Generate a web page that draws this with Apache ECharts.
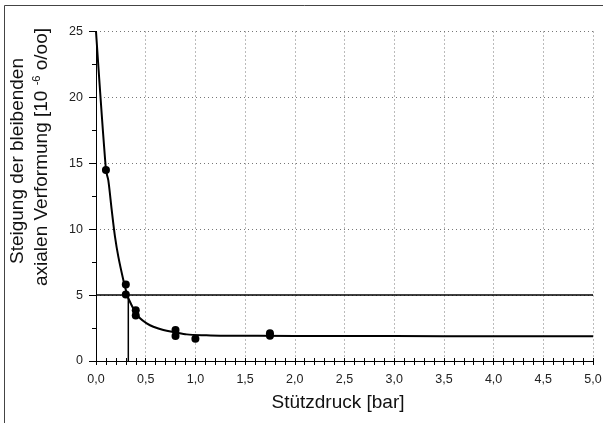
<!DOCTYPE html>
<html>
<head>
<meta charset="utf-8">
<script src="https://cdn.jsdelivr.net/npm/echarts@6/dist/echarts.min.js"></script>
<style>
  html, body { margin: 0; padding: 0; background: #fff; }
  #chart { width: 603px; height: 423px; }
</style>
</head>
<body>
<div id="chart"></div>
<script>
// Measured points: support pressure [bar] vs. slope of permanent axial strain
const pointX = [0.1, 0.3, 0.3, 0.4, 0.4, 0.8, 0.8, 1.0, 1.75, 1.75];
const pointY = [14.5, 5.8, 5.05, 3.85, 3.45, 2.35, 1.9, 1.68, 2.1, 1.92];

// Fitted decay curve, sampled along its course
const curveX = [0.0, 0.1, 0.124, 0.158, 0.191, 0.225, 0.275, 0.309, 0.325, 0.393, 0.443, 0.51, 0.577, 0.678, 0.796, 0.913, 1.11, 1.25, 2.0, 3.0, 4.0, 5.0];
const curveY = [25.0, 14.5, 13.7, 11.46, 9.43, 7.9, 6.15, 5.14, 4.76, 3.74, 3.24, 2.86, 2.6, 2.35, 2.18, 2.02, 1.95, 1.92, 1.9, 1.89, 1.88, 1.88];

// Reference level and the pressure where the curve crosses it
const limitY = 5;
const limitX = 0.325;

// Axis ranges and tick labels
const xMin = 0, xMax = 5, xStep = 0.5;
const yMin = 0, yMax = 25, yStep = 5;
const xTickLabels = ['0,0', '0,5', '1,0', '1,5', '2,0', '2,5', '3,0', '3,5', '4,0', '4,5', '5,0'];
const yTickLabels = ['0', '5', '10', '15', '20', '25'];

// Axis titles
const xTitle = 'Stützdruck [bar]';
const yTitleLine1 = 'Steigung der bleibenden';
const yTitleLine2 = ['axialen Verformung [10 ', '-6', ' o/oo]'];

const FONT = 'Liberation Sans, Arial, sans-serif';
const TITLE_SIZE = 19;
const lineBlack = { color: '#000', width: 1 };
const dotted = { show: true, lineStyle: { color: '#777', width: 1, type: [1, 3] } };

const chart = echarts.init(document.getElementById('chart'), null, { renderer: 'canvas' });

const toPairs = (xs, ys) => xs.map((x, i) => [x, ys[i]]);

chart.setOption({
  animation: false,
  backgroundColor: '#fff',
  grid: { left: 96, right: 10, top: 31.5, bottom: 62, containLabel: false, outerBoundsMode: 'none' },
  graphic: [
    {
      type: 'rect',
      shape: { x: 4.5, y: 5.5, width: 700, height: 500 },
      style: { fill: null, stroke: '#444', lineWidth: 1 },
      silent: true
    },
    {
      type: 'text', x: 338, y: 403, silent: true,
      style: {
        text: xTitle, fill: '#111', font: `${TITLE_SIZE}px ${FONT}`,
        align: 'center', verticalAlign: 'middle'
      }
    },
    {
      type: 'text', x: 18, y: 161, rotation: Math.PI / 2, silent: true,
      style: {
        text: yTitleLine1, fill: '#111', font: `${TITLE_SIZE}px ${FONT}`,
        align: 'center', verticalAlign: 'middle'
      }
    },
    {
      type: 'text', x: 42, y: 157, rotation: Math.PI / 2, silent: true,
      style: {
        text: `{a|${yTitleLine2[0]}}{s|${yTitleLine2[1]}}{a|${yTitleLine2[2]}}`,
        fill: '#111', font: `${TITLE_SIZE}px ${FONT}`,
        align: 'center', verticalAlign: 'middle',
        rich: {
          a: { font: `${TITLE_SIZE}px ${FONT}`, fill: '#111', lineHeight: 24 },
          s: { font: `11px ${FONT}`, fill: '#111', lineHeight: 24, verticalAlign: 'top', padding: [1, 0, 0, 0] }
        }
      }
    }
  ],
  xAxis: [
    {
      type: 'value', position: 'bottom', min: xMin, max: xMax, interval: xStep,
      axisLine: { show: true, lineStyle: lineBlack },
      axisTick: { show: true, inside: false, length: 4, lineStyle: lineBlack },
      axisLabel: {
        show: true, margin: 12, color: '#222', fontFamily: FONT, fontSize: 12.5,
        formatter: v => xTickLabels[Math.round((v - xMin) / xStep)]
      },
      splitLine: dotted
    },
    {
      type: 'value', position: 'top', min: xMin, max: xMax, interval: 0.1,
      axisLine: { show: true, lineStyle: lineBlack },
      axisTick: { show: true, inside: true, length: 4, lineStyle: lineBlack },
      axisLabel: { show: false }, splitLine: { show: false }
    },
    {
      type: 'value', position: 'bottom', min: xMin, max: xMax, interval: 0.1,
      axisLine: { show: false },
      axisTick: { show: true, inside: true, length: 3, lineStyle: lineBlack },
      axisLabel: { show: false }, splitLine: { show: false }
    }
  ],
  yAxis: [
    {
      type: 'value', position: 'left', min: yMin, max: yMax, interval: yStep,
      axisLine: { show: true, lineStyle: lineBlack },
      axisTick: { show: true, inside: false, length: 7, lineStyle: lineBlack },
      minorTick: { show: true, splitNumber: 2, length: 4, lineStyle: lineBlack },
      axisLabel: {
        show: true, margin: 13, color: '#222', fontFamily: FONT, fontSize: 12.5,
        formatter: v => yTickLabels[Math.round((v - yMin) / yStep)]
      },
      splitLine: dotted
    },
    {
      type: 'value', position: 'right', min: yMin, max: yMax, interval: 2.5,
      axisLine: { show: true, lineStyle: lineBlack },
      axisTick: { show: true, inside: true, length: 4, lineStyle: lineBlack },
      axisLabel: { show: false }, splitLine: { show: false }
    }
  ],
  series: [
    {
      type: 'line', name: 'Grenzwert', xAxisIndex: 0, yAxisIndex: 0,
      data: [[xMin, limitY], [xMax, limitY]],
      symbol: 'none', lineStyle: { color: '#000', width: 1.5 }, silent: true
    },
    {
      type: 'line', name: 'Schnittpunkt', xAxisIndex: 0, yAxisIndex: 0,
      data: [[limitX, yMin], [limitX, limitY]],
      symbol: 'none', lineStyle: { color: '#000', width: 1.5 }, silent: true
    },
    {
      type: 'line', name: 'Ausgleichskurve', xAxisIndex: 0, yAxisIndex: 0,
      data: toPairs(curveX, curveY), smooth: 0.3,
      symbol: 'none', lineStyle: { color: '#000', width: 2 }, silent: true, clip: true
    },
    {
      type: 'scatter', name: 'Messwerte', xAxisIndex: 0, yAxisIndex: 0,
      data: toPairs(pointX, pointY), symbol: 'circle', symbolSize: 8,
      itemStyle: { color: '#000', opacity: 1 }
    }
  ]
});
</script>
</body>
</html>
